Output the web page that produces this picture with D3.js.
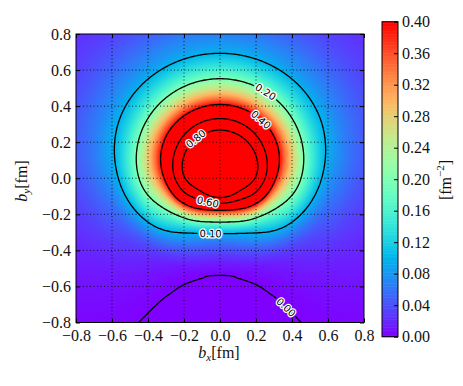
<!DOCTYPE html>
<html>
<head>
<meta charset="utf-8">
<script src="https://cdn.jsdelivr.net/npm/d3@7"></script>
<style>
  body { margin: 0; background: #fff; }
  svg { display: block; }
  .clabel { font-family: "DejaVu Sans", sans-serif; font-size: 10px; fill: #000;
            stroke: #fff; stroke-width: 2.5px; paint-order: stroke; stroke-linejoin: round; }
</style>
</head>
<body>
<svg id="chart" width="463" height="386"></svg>
<script>
// contour levels drawn on the map
const levels = [0.0, 0.1, 0.2, 0.4, 0.6, 0.8]
const levelLabels = ['0.00', '0.10', '0.20', '0.40', '0.60', '0.80']

// density profiles (fm^-2) read off the contour crossings, r = distance from origin (fm)
// straight up (+b_y), sideways (b_y = 0) and straight down (-b_y)
const upR   = [0, 0.08, 0.267, 0.331, 0.409, 0.552, 0.693, 0.8, 0.95, 1.1, 1.3]
const upV   = [1.15, 1.19, 0.8, 0.6, 0.4, 0.2, 0.1, 0.068, 0.04, 0.026, 0.018]
const sideR = [0, 0.1, 0.194, 0.25, 0.31, 0.45, 0.565, 0.7, 0.8, 0.95, 1.1, 1.3]
const sideV = [1.15, 1.0, 0.8, 0.6, 0.4, 0.2, 0.1, 0.058, 0.042, 0.028, 0.019, 0.013]
const downR = [0, 0.107, 0.139, 0.178, 0.243, 0.307, 0.4, 0.539, 0.563, 0.63, 0.736, 0.904, 1.1, 1.3]
const downV = [1.15, 0.8, 0.6, 0.4, 0.2, 0.1, 0.04, 0, -0.0017, -0.0049, -0.0065, -0.006, -0.005, -0.004]

// where the inline contour labels sit (b_x, b_y in fm)
const labelSpots = [
  { level: 0.2, bx: 0.254, by: 0.485 },
  { level: 0.4, bx: 0.228, by: 0.328 },
  { level: 0.8, bx: -0.133, by: 0.221 },
  { level: 0.6, bx: -0.065, by: -0.129 },
  { level: 0.1, bx: -0.05, by: -0.302 },
  { level: 0.0, bx: 0.365, by: -0.715 }
]

const axisTicks = [-0.8, -0.6, -0.4, -0.2, 0, 0.2, 0.4, 0.6, 0.8]
const cbarTicks = [0, 0.04, 0.08, 0.12, 0.16, 0.2, 0.24, 0.28, 0.32, 0.36, 0.4]

// monotone cubic through measured points
function monotone(xs, ys) {
  const n = xs.length, d = [], m = new Array(n)
  for (let k = 0; k < n - 1; k++) d.push((ys[k + 1] - ys[k]) / (xs[k + 1] - xs[k]))
  m[0] = d[0]; m[n - 1] = d[n - 2]
  for (let k = 1; k < n - 1; k++) m[k] = d[k - 1] * d[k] <= 0 ? 0 : (d[k - 1] + d[k]) / 2
  for (let k = 0; k < n - 1; k++) {
    if (d[k] === 0) { m[k] = m[k + 1] = 0; continue }
    const a = m[k] / d[k], b = m[k + 1] / d[k], h = a * a + b * b
    if (h > 9) { const t = 3 / Math.sqrt(h); m[k] = t * a * d[k]; m[k + 1] = t * b * d[k] }
  }
  return r => {
    if (r >= xs[n - 1]) return ys[n - 1]
    let k = Math.min(Math.max(d3.bisectRight(xs, r) - 1, 0), n - 2)
    const h = xs[k + 1] - xs[k], t = (r - xs[k]) / h, t2 = t * t, t3 = t2 * t
    return (2 * t3 - 3 * t2 + 1) * ys[k] + (t3 - 2 * t2 + t) * h * m[k] +
           (-2 * t3 + 3 * t2) * ys[k + 1] + (t3 - t2) * h * m[k + 1]
  }
}

const U = monotone(upR, upV), S = monotone(sideR, sideV), D = monotone(downR, downV)

// blend the three directions by sin(angle)
function density(bx, by) {
  const r = Math.hypot(bx, by)
  if (r < 1e-9) return S(0)
  const s = by / r
  return S(r) * (1 - s * s) + U(r) * (s + s * s) / 2 + D(r) * (s * s - s) / 2
}

// matplotlib "rainbow"
function rainbow(t) {
  t = Math.max(0, Math.min(1, t))
  const c = v => Math.round(255 * Math.max(0, Math.min(1, v)))
  return [c(Math.abs(2 * t - 0.5)), c(Math.sin(Math.PI * t)), c(Math.cos(Math.PI * t / 2))]
}

const serif = 'Liberation Serif'
const plot = { left: 76, right: 364, top: 34, bottom: 322.5 }
const svg = d3.select('#chart')

const x = d3.scaleLinear().domain([-0.8, 0.8]).range([plot.left, plot.right])
const y = d3.scaleLinear().domain([-0.8, 0.8]).range([plot.bottom, plot.top])
const color = d3.scaleLinear().domain([0, 0.4]).range([0, 1]).clamp(true)

// heat map
const W = Math.round(plot.right - plot.left), H = Math.round(plot.bottom - plot.top)
const canvas = document.createElement('canvas')
canvas.width = W; canvas.height = H
const ctx = canvas.getContext('2d')
const img = ctx.createImageData(W, H)
for (let j = 0; j < H; j++) {
  const by = y.invert(plot.top + (j + 0.5) * (plot.bottom - plot.top) / H)
  for (let i = 0; i < W; i++) {
    const bx = x.invert(plot.left + i + 0.5)
    const [r, g, b] = rainbow(color(density(bx, by)))
    const o = (j * W + i) * 4
    img.data[o] = r; img.data[o + 1] = g; img.data[o + 2] = b; img.data[o + 3] = 255
  }
}
ctx.putImageData(img, 0, 0)

const defs = svg.append('defs')
defs.append('clipPath').attr('id', 'plotClip')
  .append('rect')
  .attr('x', plot.left).attr('y', plot.top)
  .attr('width', plot.right - plot.left).attr('height', plot.bottom - plot.top)

svg.append('image')
  .attr('x', plot.left).attr('y', plot.top)
  .attr('width', plot.right - plot.left).attr('height', plot.bottom - plot.top)
  .attr('preserveAspectRatio', 'none')
  .attr('href', canvas.toDataURL())

// grid
const grid = svg.append('g')
  .attr('stroke', '#000').attr('stroke-width', 0.8).attr('stroke-dasharray', '1,2.5')
grid.selectAll('.gx').data(axisTicks.slice(1, -1)).enter().append('line')
  .attr('x1', d => x(d)).attr('x2', d => x(d)).attr('y1', plot.top).attr('y2', plot.bottom)
grid.selectAll('.gy').data(axisTicks.slice(1, -1)).enter().append('line')
  .attr('y1', d => y(d)).attr('y2', d => y(d)).attr('x1', plot.left).attr('x2', plot.right)

// contours on a grid that reaches a bit past the frame
const n = 241, lo = -0.9, step = 1.8 / (n - 1)
const values = new Array(n * n)
for (let j = 0; j < n; j++) for (let i = 0; i < n; i++) values[j * n + i] = density(lo + i * step, -lo - j * step)
const contours = d3.contours().size([n, n]).thresholds(levels)(values)

const proj = d3.geoTransform({
  point: function (gx, gy) { this.stream.point(x(lo + (gx - 0.5) * step), y(-lo - (gy - 0.5) * step)) }
})
const path = d3.geoPath(proj)

// one mask per level, so a label only breaks its own line
const masks = levels.map((lv, i) => {
  const m = defs.append('mask').attr('id', 'gap' + i)
    .attr('maskUnits', 'userSpaceOnUse').attr('x', 0).attr('y', 0).attr('width', 463).attr('height', 386)
  m.append('rect').attr('width', 463).attr('height', 386).attr('fill', '#fff')
  return m
})

const lines = svg.append('g').attr('clip-path', 'url(#plotClip)')
const linePaths = lines.selectAll('path').data(contours).enter().append('path')
  .attr('d', path).attr('fill', 'none').attr('stroke', '#000').attr('stroke-width', 1.3)
  .attr('mask', (d, i) => `url(#gap${i})`)

const labels = svg.append('g')
labelSpots.forEach(spot => {
  const idx = levels.indexOf(spot.level)
  const el = linePaths.nodes()[idx]
  const total = el.getTotalLength()
  const tx = x(spot.bx), ty = y(spot.by)
  let best = 0, bestD = Infinity
  for (let L = 0; L <= total; L += 1) {
    const p = el.getPointAtLength(L)
    const dd = (p.x - tx) ** 2 + (p.y - ty) ** 2
    if (dd < bestD) { bestD = dd; best = L }
  }
  const p = el.getPointAtLength(best)
  const a = el.getPointAtLength(Math.max(0, best - 5)), b = el.getPointAtLength(Math.min(total, best + 5))
  let ang = Math.atan2(b.y - a.y, b.x - a.x) * 180 / Math.PI
  if (ang > 90) ang -= 180
  if (ang < -90) ang += 180
  const t = labels.append('text').attr('class', 'clabel')
    .attr('transform', `translate(${p.x},${p.y}) rotate(${ang})`)
    .attr('text-anchor', 'middle').attr('dy', '0.36em')
    .text(levelLabels[idx])
  const w = t.node().getComputedTextLength() + 4
  masks[idx].append('rect')
    .attr('x', -w / 2).attr('y', -5).attr('width', w).attr('height', 10)
    .attr('transform', `translate(${p.x},${p.y}) rotate(${ang})`)
    .attr('fill', '#000')
})

// axes, classic inward ticks on every side
function styleAxis(g) {
  g.select('.domain').remove()
  g.selectAll('line').attr('stroke', '#000')
  g.selectAll('text').attr('font-family', serif).attr('font-size', 16).attr('fill', '#111')
}
const fmt1 = d3.format('.1f')
svg.append('g').attr('transform', `translate(0,${plot.bottom})`)
  .call(d3.axisBottom(x).tickValues(axisTicks).tickFormat(fmt1).tickSizeInner(-4).tickSizeOuter(0).tickPadding(7))
  .call(styleAxis)
svg.append('g').attr('transform', `translate(0,${plot.top})`)
  .call(d3.axisTop(x).tickValues(axisTicks).tickFormat('').tickSizeInner(-4).tickSizeOuter(0))
  .call(styleAxis)
svg.append('g').attr('transform', `translate(${plot.left},0)`)
  .call(d3.axisLeft(y).tickValues(axisTicks).tickFormat(fmt1).tickSizeInner(-4).tickSizeOuter(0).tickPadding(5))
  .call(styleAxis)
svg.append('g').attr('transform', `translate(${plot.right},0)`)
  .call(d3.axisRight(y).tickValues(axisTicks).tickFormat('').tickSizeInner(-4).tickSizeOuter(0))
  .call(styleAxis)

svg.append('rect')
  .attr('x', plot.left).attr('y', plot.top)
  .attr('width', plot.right - plot.left).attr('height', plot.bottom - plot.top)
  .attr('fill', 'none').attr('stroke', '#000').attr('stroke-width', 1)

// axis titles
const xt = svg.append('text').attr('x', 219).attr('y', 358).attr('text-anchor', 'middle')
  .attr('font-family', serif).attr('font-size', 16).attr('fill', '#111')
xt.append('tspan').attr('font-style', 'italic').text('b')
xt.append('tspan').attr('font-style', 'italic').attr('font-size', '11px').attr('dy', 3).text('x')
xt.append('tspan').attr('dy', -3).text('[fm]')

const yt = svg.append('text').attr('transform', 'translate(27,181) rotate(-90)').attr('text-anchor', 'middle')
  .attr('font-family', serif).attr('font-size', 16).attr('fill', '#111')
yt.append('tspan').attr('font-style', 'italic').text('b')
yt.append('tspan').attr('font-style', 'italic').attr('font-size', '11px').attr('dy', 3).text('y')
yt.append('tspan').attr('dy', -3).text('[fm]')

// colour bar
const cb = { left: 382, right: 398, top: 21.7, bottom: 336.7 }
const cbY = d3.scaleLinear().domain([0, 0.4]).range([cb.bottom, cb.top])
const bands = d3.range(0, 0.4, 0.002)
svg.append('g').selectAll('rect').data(bands).enter().append('rect')
  .attr('x', cb.left).attr('width', cb.right - cb.left)
  .attr('y', d => cbY(d + 0.002)).attr('height', cbY(0) - cbY(0.002) + 0.5)
  .attr('fill', d => 'rgb(' + rainbow(color(d + 0.001)).join(',') + ')')
svg.append('rect')
  .attr('x', cb.left).attr('y', cb.top).attr('width', cb.right - cb.left).attr('height', cb.bottom - cb.top)
  .attr('fill', 'none').attr('stroke', '#000').attr('stroke-width', 1)
svg.append('g').attr('transform', `translate(${cb.right},0)`)
  .call(d3.axisRight(cbY).tickValues(cbarTicks).tickFormat(d3.format('.2f')).tickSizeInner(-4).tickSizeOuter(0).tickPadding(4))
  .call(styleAxis)

const ct = svg.append('text').attr('transform', 'translate(451,180) rotate(-90)').attr('text-anchor', 'middle')
  .attr('font-family', serif).attr('font-size', 16).attr('fill', '#111')
ct.append('tspan').text('[fm')
ct.append('tspan').attr('font-size', '11px').attr('dy', -7).text('−2')
ct.append('tspan').attr('dy', 7).text(']')
</script>
</body>
</html>
